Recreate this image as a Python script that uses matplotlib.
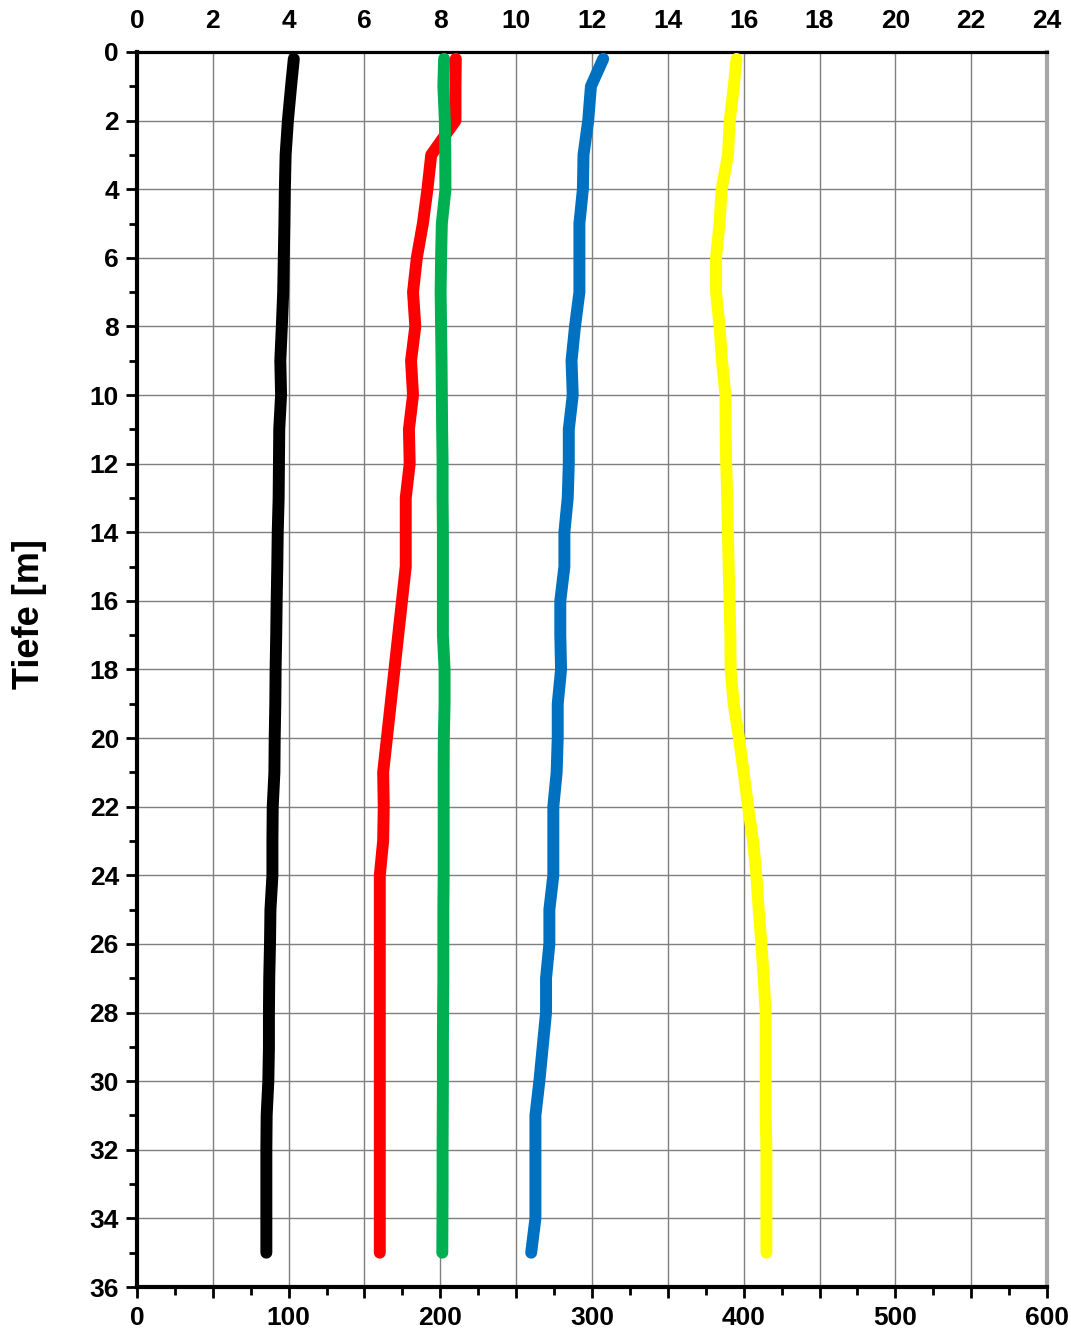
import matplotlib
matplotlib.use("Agg")
import matplotlib.pyplot as plt
from matplotlib.ticker import MultipleLocator, FuncFormatter

plt.rcParams['font.family'] = ['Liberation Sans', 'DejaVu Sans']
plt.rcParams['font.weight'] = 'bold'

# depths [m]
depth = [0.2] + list(range(1, 36))

# values on the bottom scale (0-600)
black = [103.4, 101.6, 99.5, 98.0, 97.5, 97.2, 96.8, 96.4, 95.5, 94.5,
         95.0, 93.8, 93.6, 93.4, 92.8, 92.5, 92.1, 91.8, 91.4, 91.2,
         90.8, 90.6, 89.5, 89.3, 89.3, 88.0, 87.7, 87.2, 87.0, 87.0,
         86.6, 85.5, 85.3, 85.3, 85.3, 85.3]

red_depth = [0.2, 1, 2, 3, 4, 5, 6, 7, 8, 9, 10, 11, 12, 13, 14, 15,
             21, 22, 23, 24, 35]
red = [210.2, 210.0, 210.0, 194.0, 191.5, 188.5, 184.5, 182.0, 183.5, 180.7,
       182.0, 179.3, 179.8, 177.2, 177.2, 177.2, 162.3, 162.7, 162.3, 160.1,
       160.1]

green = [202.5, 202.0, 203.0, 203.3, 203.4, 201.0, 200.5, 200.2, 200.5, 200.8,
         201.0, 201.2, 201.5, 201.5, 201.7, 201.7, 201.7, 201.7, 202.8, 202.8,
         202.3, 202.2, 202.2, 202.2, 202.2, 202.0, 202.0, 202.0, 201.8, 201.7,
         201.7, 201.6, 201.5, 201.5, 201.4, 201.3]

blue = [307.4, 299.3, 297.5, 294.4, 294.0, 291.7, 291.7, 291.7, 288.8, 286.5,
        287.3, 284.7, 284.7, 284.0, 281.8, 281.8, 279.1, 279.1, 279.6, 277.4,
        277.4, 276.7, 274.5, 274.5, 274.5, 271.9, 271.9, 269.7, 269.7, 267.5,
        265.3, 262.7, 262.7, 262.7, 262.7, 259.9]

yellow = [395.3, 393.5, 390.8, 389.7, 385.5, 384.1, 381.8, 381.8, 384.1, 385.7,
          388.0, 388.1, 388.5, 389.2, 389.6, 390.1, 390.7, 391.2, 391.4, 393.4,
          396.9, 400.0, 402.9, 406.2, 408.4, 409.9, 411.7, 413.2, 414.5, 414.5,
          414.5, 414.5, 415.0, 415.0, 415.0, 415.0]

fig = plt.figure(figsize=(10.71, 13.33), dpi=100)
ax = fig.add_axes([0.1279, 0.0345, 0.8497, 0.9265])

lw = 8.6
style = dict(lw=lw, solid_capstyle='round', solid_joinstyle='round', zorder=3)
ax.plot(black, depth, color='black', **style)
ax.plot(red, red_depth, color='#FF0000', **style)
ax.plot(green, depth, color='#00B050', **style)
ax.plot(blue, depth, color='#0070C0', **style)
ax.plot(yellow, depth, color='#FFFF00', **style)

ax.set_xlim(0, 600)
ax.set_ylim(36, 0)

ax.xaxis.set_major_locator(MultipleLocator(50))
ax.xaxis.set_minor_locator(MultipleLocator(25))
ax.xaxis.set_major_formatter(FuncFormatter(lambda v, p: f"{int(v)}" if v % 100 == 0 else ""))
ax.yaxis.set_major_locator(MultipleLocator(2))
ax.yaxis.set_minor_locator(MultipleLocator(1))

ax.grid(True, which='major', color='#7f7f7f', lw=1.0, zorder=1)
ax.set_axisbelow(True)

ax.tick_params(axis='both', which='major', direction='out', length=8, width=2,
               labelsize=19, color='black')
ax.tick_params(axis='both', which='minor', direction='out', length=6, width=2, color='black')
ax.tick_params(axis='x', which='major', pad=6)
ax.tick_params(axis='y', which='major', pad=5)

for s in ['left', 'bottom']:
    ax.spines[s].set_linewidth(3)
    ax.spines[s].set_color('black')
ax.spines['top'].set_linewidth(2.3)
ax.spines['top'].set_color('black')
ax.spines['right'].set_linewidth(3)
ax.spines['right'].set_color('#a6a6a6')

ax.set_ylabel('Tiefe [m]', fontsize=26, fontweight='bold')
ax.yaxis.set_label_coords(-0.099, 0.545)

top = ax.secondary_xaxis('top', functions=(lambda v: v / 25, lambda v: v * 25))
top.xaxis.set_major_locator(MultipleLocator(2))
top.tick_params(axis='x', which='both', length=0, labelsize=19, pad=14)
top.spines['top'].set_visible(False)

for lab in ax.get_xticklabels() + ax.get_yticklabels() + top.get_xticklabels():
    lab.set_fontweight('bold')

fig.savefig('out.png', dpi=100)
